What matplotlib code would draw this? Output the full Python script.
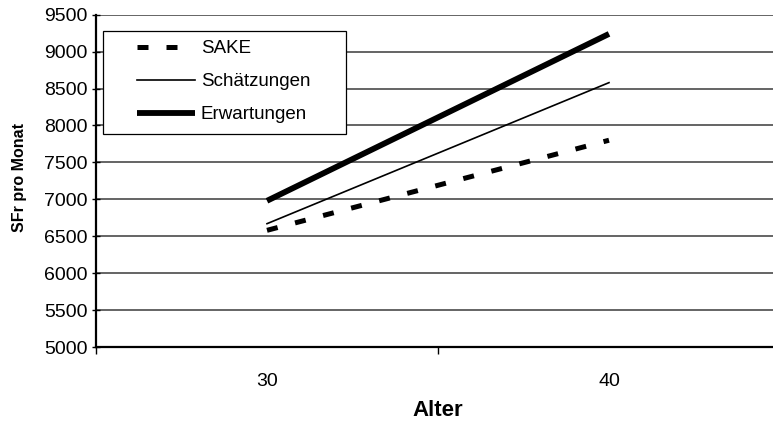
import matplotlib.pyplot as plt
from matplotlib.patches import Rectangle

plt.rcParams['font.family'] = ['Liberation Sans', 'DejaVu Sans']

alter = ['30', '40']
sake = [6580, 7800]
schaetzungen = [6670, 8580]
erwartungen = [6980, 9240]
yticks = list(range(5000, 9501, 500))

fig = plt.figure(figsize=(7.73, 4.24), dpi=100)
ax = fig.add_axes([96/773, 77/424, 684/773, 332.3/424])

x = range(len(alter))
l1, = ax.plot(x, sake, color='black', lw=3.6, dashes=(2.2, 3.6),
              solid_capstyle='butt', dash_capstyle='butt', zorder=3)
l2, = ax.plot(x, schaetzungen, color='black', lw=1.2, zorder=3)
l3, = ax.plot(x, erwartungen, color='black', lw=4.2, solid_capstyle='butt', zorder=3)

ax.set_xlim(-0.5, 1.5)
ax.set_ylim(5000, 9500)
ax.set_yticks(yticks)
ax.set_xticks(list(x))
ax.set_xticklabels(alter, fontsize=14)
ax.set_xticks([-0.5, 0.5, 1.5], minor=True)
ax.tick_params(axis='x', which='major', length=0, pad=19)
ax.tick_params(axis='x', which='minor', length=5, width=1, direction='out')
ax.tick_params(axis='y', labelsize=14, length=6, width=1, direction='inout', pad=3)

ax.yaxis.grid(True, color='#3a3a3a', lw=1.1)
ax.set_axisbelow(True)
for s in ['top', 'right']:
    ax.spines[s].set_visible(False)
ax.spines['left'].set_linewidth(1.6)
ax.spines['bottom'].set_linewidth(1.6)

fig.text(20/773, 1 - 178/424, 'SFr pro Monat', rotation=90, fontsize=11.5,
         fontweight='bold', ha='center', va='center')
fig.text(438/773, 1 - 410/424, 'Alter', fontsize=16, fontweight='bold',
         ha='center', va='center')

box = Rectangle((103/773, 1 - 134/424), 243/773, 103/424, transform=fig.transFigure,
                facecolor='white', edgecolor='black', lw=0.9, zorder=4)
fig.patches.append(box)

leg = fig.legend([l1, l2, l3], ['SAKE', 'Schätzungen', 'Erwartungen'],
                 loc='upper left', bbox_to_anchor=(137/773, 1 - 40/424),
                 bbox_transform=fig.transFigure, frameon=False, fontsize=13.5,
                 handlelength=3.1, handletextpad=0.3, borderpad=0,
                 borderaxespad=0, labelspacing=0.85)
leg.set_zorder(5)

fig.savefig('out.png', dpi=100)
